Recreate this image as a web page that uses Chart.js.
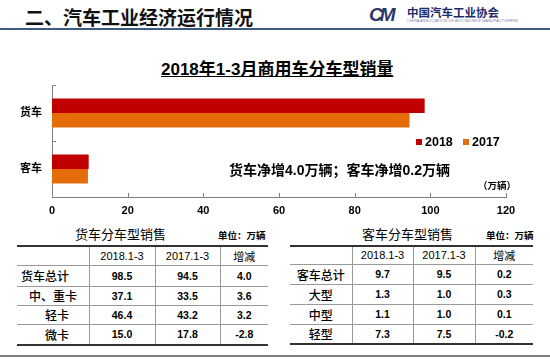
<!DOCTYPE html>
<html>
<head>
<meta charset="utf-8">
<script src="https://cdn.jsdelivr.net/npm/chart.js@4.4.0/dist/chart.umd.min.js"></script>
<style>
  body { margin: 0; background: #fff; }
  #page { position: relative; width: 550px; height: 360px; overflow: hidden; background: #fff;
          font-family: "Liberation Sans", "Noto Sans CJK SC", sans-serif; color: #000; }
  .t { position: absolute; white-space: nowrap; }
  #chart { position: absolute; left: 0; top: 0; }
  table { position: absolute; border-collapse: collapse; table-layout: fixed; font-size: 11px; }
  td { padding: 0; text-align: center; border-left: 1px solid #9a9a9a; border-top: 1px solid #9a9a9a; }
  td:first-child { border-left: none; }
  tr:first-child td { border-top: 2px solid #333; }
  tr:last-child td { border-bottom: 2px solid #333; }
  tr.head td { font-weight: normal; }
  tr.row td { font-weight: bold; font-size: 10.5px; }
  tr.row td:first-child { font-size: 12px; font-weight: 500; font-family: "Noto Sans CJK SC", sans-serif; }
</style>
</head>
<body>
<div id="page">
  <div class="t" style="left:25px;top:5px;line-height:24px;font-size:19px;font-weight:bold;font-family:'Noto Sans CJK SC';color:#111;">二、汽车工业经济运行情况</div>
  <div class="t" style="left:369px;top:5px;line-height:20px;font-size:19px;font-weight:bold;font-style:italic;letter-spacing:-3px;color:#2b3568;">CM</div>
  <div class="t" style="left:407px;top:4px;line-height:16px;font-size:11.5px;font-weight:bold;font-family:'Noto Sans CJK SC';color:#1d2d6b;">中国汽车工业协会</div>
  <div class="t" style="left:407px;top:18px;line-height:6px;font-size:4px;color:#8088a8;">CHINA ASSOCIATION OF AUTOMOBILE MANUFACTURERS</div>
  <div style="position:absolute;left:0;top:28px;width:550px;height:2px;background:#3d5a80;"></div>

  <div class="t" style="left:161px;top:60px;line-height:20px;font-size:17px;font-weight:bold;text-decoration:underline;">2018年1-3月商用车分车型销量</div>

  <canvas id="chart" width="550" height="226"></canvas>

  <div class="t" style="left:416px;top:139px;width:6px;height:6px;background:#C00000;"></div>
  <div class="t" style="left:425px;top:134px;line-height:16px;font-size:12.5px;font-weight:bold;">2018</div>
  <div class="t" style="left:463px;top:139px;width:6px;height:6px;background:#E46C0A;"></div>
  <div class="t" style="left:472px;top:134px;line-height:16px;font-size:12.5px;font-weight:bold;">2017</div>
  <div class="t" style="left:229px;top:161px;line-height:18px;font-size:14px;font-weight:bold;">货车净增4.0万辆；客车净增0.2万辆</div>
  <div class="t" style="left:478px;top:179px;line-height:14px;font-size:9.5px;font-weight:bold;">（万辆）</div>

  <div class="t" style="left:75px;top:226px;line-height:18px;font-size:13px;">货车分车型销售</div>
  <div class="t" style="left:218px;top:229px;line-height:14px;font-size:9.5px;font-weight:bold;">单位：万辆</div>
  <div class="t" style="left:362px;top:226px;line-height:18px;font-size:13px;">客车分车型销售</div>
  <div class="t" style="left:486px;top:229px;line-height:14px;font-size:9.5px;font-weight:bold;">单位：万辆</div>

  <table id="truckTable" style="left:17px;top:245px;width:251px;"></table>
  <table id="busTable" style="left:290px;top:245px;width:243px;"></table>

  <div style="position:absolute;left:0;top:355px;width:550px;height:2px;background:#7f7f7f;"></div>
</div>

<script>
// chart data
const categories = ['货车', '客车'];
const sales2018 = [98.5, 9.7];
const sales2017 = [94.5, 9.5];
const xMin = 0, xMax = 120, xStep = 20;

// table data
const tableHeader = ['', '2018.1-3', '2017.1-3', '增减'];
const truckLabels = ['货车总计', '中、重卡', '轻卡', '微卡'];
const truck2018 = [98.5, 37.1, 46.4, 15.0];
const truck2017 = [94.5, 33.5, 43.2, 17.8];
const truckDiff = [4.0, 3.6, 3.2, -2.8];
const busLabels = ['客车总计', '大型', '中型', '轻型'];
const bus2018 = [9.7, 1.3, 1.1, 7.3];
const bus2017 = [9.5, 1.0, 1.0, 7.5];
const busDiff = [0.2, 0.3, 0.1, -0.2];

function fillTable(id, widths, labels, a, b, c, labelPads, rowHeights) {
    let t = document.getElementById(id);
    let html = '<colgroup>';
    widths.forEach(w => html += '<col style="width:' + w + 'px">');
    html += '</colgroup>';
    html += '<tr class="head" style="height:' + rowHeights[0] + 'px">';
    tableHeader.forEach(h => html += '<td>' + h + '</td>');
    html += '</tr>';
    for (let i = 0; i < labels.length; i++) {
        html += '<tr class="row" style="height:' + rowHeights[i + 1] + 'px">';
        let pad = labelPads ? 'text-align:left;padding-left:' + labelPads[i] + 'px' : '';
        html += '<td style="' + pad + '">' + labels[i] + '</td>';
        html += '<td>' + a[i].toFixed(1) + '</td><td>' + b[i].toFixed(1) + '</td><td>' + c[i].toFixed(1) + '</td>';
        html += '</tr>';
    }
    t.innerHTML = html;
}
fillTable('truckTable', [72, 66, 65, 48], truckLabels, truck2018, truck2017, truckDiff, [4, 12, 28, 28], [19, 21, 19, 19, 21]);
fillTable('busTable', [62, 61, 62, 58], busLabels, bus2018, bus2017, busDiff, null, [18, 20, 20, 20, 20]);

// small tick marks pointing into the plot
const innerTicks = {
    id: 'innerTicks',
    afterDraw(chart) {
        let ctx = chart.ctx;
        let xs = chart.scales.x, ys = chart.scales.y;
        ctx.save();
        ctx.strokeStyle = '#808080';
        ctx.lineWidth = 1;
        ctx.beginPath();
        xs.ticks.forEach((t, i) => {
            let x = Math.round(xs.getPixelForTick(i)) + 0.5;
            ctx.moveTo(x, xs.top);
            ctx.lineTo(x, xs.top - 4);
        });
        for (let i = 0; i <= categories.length; i++) {
            let y = Math.round(ys.getPixelForValue(i - 0.5)) + 0.5;
            ctx.moveTo(ys.right, y);
            ctx.lineTo(ys.right + 4, y);
        }
        ctx.stroke();
        ctx.restore();
    }
};

const font = { family: '"Liberation Sans", "Noto Sans CJK SC", sans-serif', weight: 'bold', size: 11 };

new Chart(document.getElementById('chart').getContext('2d'), {
    type: 'bar',
    data: {
        labels: categories,
        datasets: [
            { label: '2018', data: sales2018, backgroundColor: '#C00000' },
            { label: '2017', data: sales2017, backgroundColor: '#E46C0A' }
        ]
    },
    options: {
        indexAxis: 'y',
        responsive: false,
        animation: false,
        categoryPercentage: 0.52,
        barPercentage: 1.0,
        layout: { padding: { top: 85, right: 44, left: 0, bottom: 0 } },
        plugins: { legend: { display: false }, tooltip: { enabled: false } },
        scales: {
            x: {
                min: xMin, max: xMax,
                ticks: { stepSize: xStep, color: '#000', font: font, padding: 7 },
                grid: { display: false, drawTicks: false },
                border: { display: true, color: '#808080', width: 1 },
                afterFit(scale) { scale.height = 29; }
            },
            y: {
                ticks: { color: '#000', font: font, padding: 10 },
                grid: { display: false, drawTicks: false },
                border: { display: true, color: '#808080', width: 1 },
                afterFit(scale) { scale.width = 52; }
            }
        }
    },
    plugins: [innerTicks]
});
</script>
</body>
</html>
